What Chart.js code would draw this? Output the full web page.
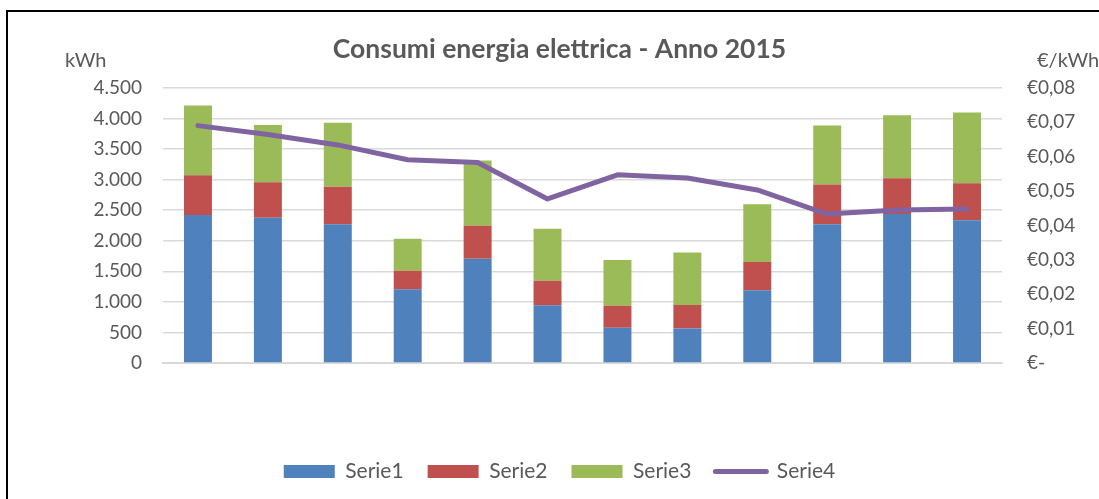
<!DOCTYPE html>
<html>
<head>
<meta charset="utf-8">
<script src="https://cdn.jsdelivr.net/npm/chart.js@4"></script>
<style>
  html, body { margin: 0; padding: 0; background: #fff; overflow: hidden; }
  #wrap { position: relative; width: 1099px; height: 499px; }
  #frame { position: absolute; left: 6px; top: 10px; width: 1200px; height: 600px; border: 2px solid #000; pointer-events: none; }
</style>
</head>
<body>
<div id="wrap">
  <div id="frame"></div>
  <canvas id="chart"></canvas>
</div>
<script>
// ── Data ─────────────────────────────────────────────────────
const months = ['1', '2', '3', '4', '5', '6', '7', '8', '9', '10', '11', '12'];
const serie1 = [2420, 2375, 2270, 1205, 1705, 945, 575, 565, 1190, 2270, 2435, 2335];
const serie2 = [650, 580, 610, 305, 540, 400, 360, 385, 460, 650, 585, 605];
const serie3 = [1140, 935, 1050, 520, 1065, 850, 750, 855, 945, 965, 1030, 1155];
const serie4 = [0.0690, 0.0664, 0.0634, 0.0591, 0.0583, 0.0477, 0.0547, 0.0538, 0.0503, 0.0433, 0.0445, 0.0448];

const kwhTicks = [0, 500, 1000, 1500, 2000, 2500, 3000, 3500, 4000, 4500];
const euroTicks = [0, 0.01, 0.02, 0.03, 0.04, 0.05, 0.06, 0.07, 0.08];

const textColor = '#595959';
const fontFamily = 'Lato, "Open Sans", sans-serif';

// ── Helpers ──────────────────────────────────────────────────
function fmtKwh(v) {
  return String(v).replace(/\B(?=(\d{3})+(?!\d))/g, '.');
}
function fmtEuro(v) {
  if (Math.abs(v) < 1e-9) return '€-';
  return '€' + v.toFixed(2).replace('.', ',');
}

// axis unit labels drawn above the value axes
const unitLabels = {
  id: 'unitLabels',
  afterDraw(chart) {
    const { ctx, chartArea } = chart;
    ctx.save();
    ctx.font = '20px ' + fontFamily;
    ctx.fillStyle = textColor;
    ctx.textBaseline = 'middle';
    ctx.textAlign = 'left';
    ctx.fillText('kWh', 65, chartArea.top - 27);
    ctx.fillText('€/kWh', 1037, chartArea.top - 27);
    ctx.restore();
  }
};

// ── Chart ────────────────────────────────────────────────────
const ctx = document.getElementById('chart').getContext('2d');
new Chart(ctx, {
  type: 'bar',
  data: {
    labels: months,
    datasets: [
      { label: 'Serie1', data: serie1, backgroundColor: '#4F81BD', yAxisID: 'y', order: 1 },
      { label: 'Serie2', data: serie2, backgroundColor: '#C0504D', yAxisID: 'y', order: 1 },
      { label: 'Serie3', data: serie3, backgroundColor: '#9BBB59', yAxisID: 'y', order: 1 },
      {
        type: 'line',
        label: 'Serie4',
        data: serie4,
        yAxisID: 'y1',
        borderColor: '#8064A2',
        backgroundColor: '#8064A2',
        borderWidth: 5,
        borderCapStyle: 'round',
        borderJoinStyle: 'round',
        pointRadius: 0,
        tension: 0,
        order: 0
      }
    ]
  },
  options: {
    responsive: true,
    maintainAspectRatio: false,
    animation: false,
    datasets: {
      bar: { categoryPercentage: 1, barPercentage: 0.4 }
    },
    layout: { padding: { left: 20, right: 0, top: 0, bottom: 7 } },
    scales: {
      x: {
        stacked: true,
        grid: { display: false },
        border: { display: true, color: '#D9D9D9', width: 2 },
        ticks: { display: false },
        afterFit: s => { s.height = 74; }
      },
      y: {
        stacked: true,
        position: 'left',
        min: 0,
        max: 4500,
        afterBuildTicks: s => { s.ticks = kwhTicks.map(v => ({ value: v })); },
        ticks: {
          color: textColor,
          font: { family: fontFamily, size: 19 },
          padding: 21,
          callback: v => fmtKwh(v)
        },
        grid: { color: '#D9D9D9', lineWidth: 1.5, drawTicks: false },
        border: { display: false },
        afterFit: s => { s.width = 143; }
      },
      y1: {
        position: 'right',
        min: 0,
        max: 0.08,
        afterBuildTicks: s => { s.ticks = euroTicks.map(v => ({ value: v })); },
        ticks: {
          color: textColor,
          font: { family: fontFamily, size: 19 },
          padding: 25,
          callback: v => fmtEuro(v)
        },
        grid: { display: false, drawTicks: false },
        border: { display: false },
        afterFit: s => { s.width = 97; }
      }
    },
    plugins: {
      title: {
        display: true,
        text: 'Consumi energia elettrica - Anno 2015',
        color: textColor,
        font: { family: fontFamily, size: 26.5, weight: 'bold' },
        padding: { top: 34, bottom: 22 }
      },
      legend: {
        position: 'bottom',
        labels: {
          color: textColor,
          font: { family: fontFamily, size: 21 },
          usePointStyle: true,
          pointStyleWidth: 51,
          boxHeight: 13,
          padding: 24,
          sort: (a, b) => a.datasetIndex - b.datasetIndex,
          generateLabels: chart => {
            const items = Chart.defaults.plugins.legend.labels.generateLabels(chart);
            items.forEach(it => {
              const ds = chart.data.datasets[it.datasetIndex];
              if (ds.type === 'line') {
                it.pointStyle = 'line';
                it.strokeStyle = ds.borderColor;
                it.lineWidth = 5;
                it.lineCap = 'round';
              } else {
                it.pointStyle = 'rect';
                it.lineWidth = 0;
              }
            });
            return items;
          }
        }
      },
      tooltip: { enabled: false }
    }
  },
  plugins: [unitLabels]
});
</script>
</body>
</html>
